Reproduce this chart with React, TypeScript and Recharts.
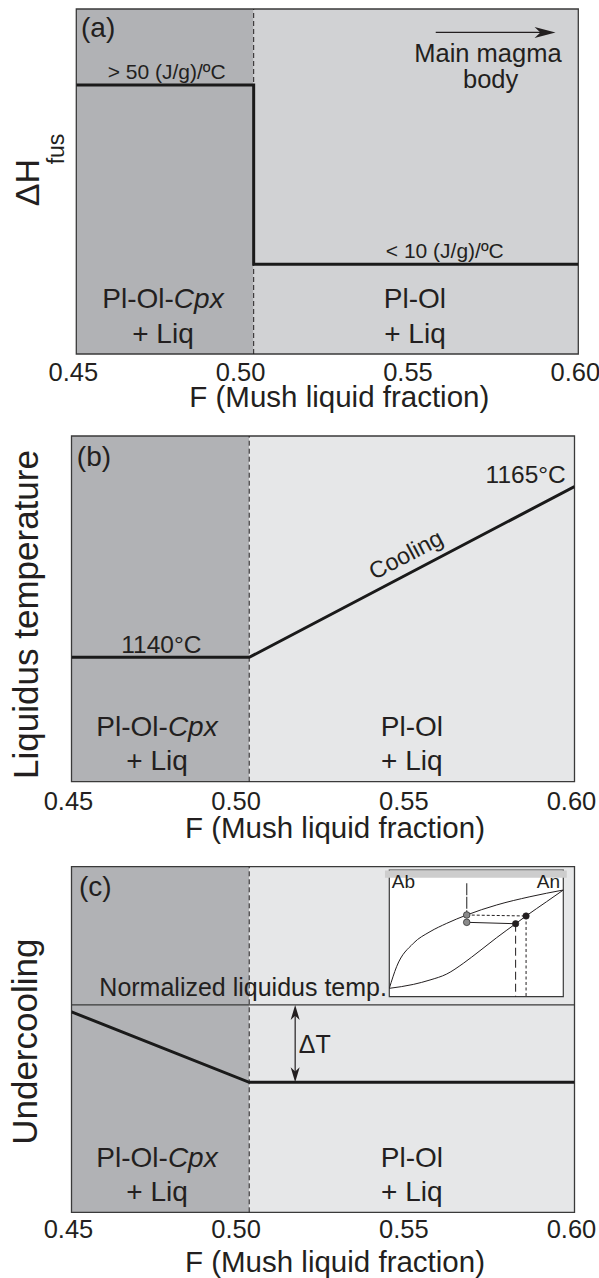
import React from 'react';
import {
  ComposedChart, Line, XAxis, YAxis, ReferenceArea, ReferenceLine, ReferenceDot,
} from 'recharts';

// ---------- data ----------
const xTicks = [0.45, 0.5, 0.55, 0.6];
const xTickLabels = ['0.45', '0.50', '0.55', '0.60'];
const fDomain = [0.45, 0.6];
const fBoundary = 0.503; // Cpx-in boundary as drawn

// (a) enthalpy of fusion (relative units)
const dhF = [0.45, 0.503, 0.503, 0.6];
const dhV = [78, 78, 26, 26];
const dhDomain = [0, 100];
const magmaArrowF = [0.5574, 0.5932];
const magmaArrowV = 93.2;

// (b) liquidus temperature (°C)
const tlF = [0.45, 0.503, 0.6];
const tlV = [1140, 1140, 1165];
const tlDomain = [1121.8, 1172.4];

// (c) undercooling (normalized)
const ucDomain = [0, 100];
const normLiqV = 60;
const ucF = [0.45, 0.503, 0.6];
const ucV = [58, 37.6, 37.6];
const dTF = 0.5167;

// inset: Ab–An binary loop
const liqX = [0, 4.2, 13.8, 23.4, 33, 44.5, 61.7, 80.8, 100];
const liqY = [6.6, 23.7, 42.1, 51.3, 57.9, 64.5, 72.4, 78.9, 84.2];
const solX = [0, 13.8, 23.4, 33, 42.5, 52.1, 61.7, 72.6, 78.6, 90.4, 100];
const solY = [6.6, 9.7, 13.2, 17.9, 26.3, 36.3, 46.6, 57.6, 63.7, 75, 84.2];
const grayDotX = [44.5, 44.5];
const grayDotY = [64.5, 58.7];
const blackDotX = [78.6, 72.6];
const blackDotY = [63.7, 57.6];
const tieTopY = 89.5;

// ---------- styling ----------
const FONT = '"Liberation Sans", Arial, Helvetica, sans-serif';
const INK = '#231f20';
const DARK = '#b1b2b5';
const LIGHT_A = '#d1d2d4';
const LIGHT_BC = '#e6e7e8';
const BORDER = '#3a3a3a';

const pts = (xs: number[], ys: number[], kx = 'f', ky = 'v') =>
  xs.map((x, i) => ({ [kx]: x, [ky]: ys[i] }));

const tickFmt = (v: number) => {
  const i = xTicks.findIndex((t) => Math.abs(t - v) < 1e-9);
  return i >= 0 ? xTickLabels[i] : v.toFixed(2);
};

const tx = (
  key: string, x: number, y: number, children: React.ReactNode, size: number,
  anchor: 'start' | 'middle' | 'end' = 'middle', rotate = 0,
) => (
  <ReferenceDot
    key={key} x={x} y={y} r={0} ifOverflow="visible"
    shape={(p: any) => (
      <text
        x={p.cx} y={p.cy} textAnchor={anchor} fontSize={size} fontFamily={FONT} fill={INK}
        transform={rotate ? `rotate(${rotate} ${p.cx} ${p.cy})` : undefined}
      >
        {children}
      </text>
    )}
  />
);

const arrowShape = (both: boolean, hl: number, hw: number) => (p: any) => {
  const { x1, y1, x2, y2 } = p;
  const dx = x2 - x1, dy = y2 - y1;
  const len = Math.hypot(dx, dy) || 1;
  const ux = dx / len, uy = dy / len;
  const head = (tx0: number, ty0: number, vx: number, vy: number) => {
    const bx = tx0 - vx * hl, by = ty0 - vy * hl;
    const nx = tx0 - vx * hl * 0.72, ny = ty0 - vy * hl * 0.72;
    return `${tx0},${ty0} ${bx - vy * hw},${by + vx * hw} ${nx},${ny} ${bx + vy * hw},${by - vx * hw}`;
  };
  return (
    <g>
      <line x1={both ? x1 + ux * hl * 0.6 : x1} y1={both ? y1 + uy * hl * 0.6 : y1}
        x2={x2 - ux * hl * 0.6} y2={y2 - uy * hl * 0.6} stroke={INK} strokeWidth={1.2} />
      <polygon points={head(x2, y2, ux, uy)} fill={INK} />
      {both && <polygon points={head(x1, y1, -ux, -uy)} fill={INK} />}
    </g>
  );
};

const xTitle = (dy: number) => (props: any) => {
  const vb = props.viewBox || { x: 72, y: 0, width: 503, height: 60 };
  return (
    <text x={vb.x + vb.width / 2 + 12} y={vb.y + dy} textAnchor="middle"
      fontSize={29.5} fontFamily={FONT} fill={INK}>F (Mush liquid fraction)</text>
  );
};

const axisX = (tickMargin: number, height: number, dy: number) => (
  <XAxis
    type="number" dataKey="f" domain={fDomain} allowDataOverflow ticks={xTicks} interval={0}
    tickFormatter={tickFmt} axisLine={false} tickLine={false} tickSize={0} tickMargin={tickMargin}
    height={height} tick={{ fontSize: 25.5, fill: INK, fontFamily: FONT, dx: -3 }}
    label={xTitle(dy)}
  />
);

const regionLabels = (leftF: number, rightF: number, v1: number, v2: number) => [
  tx('r1', leftF, v1, <><tspan>Pl-Ol-</tspan><tspan fontStyle="italic">Cpx</tspan></>, 28),
  tx('r2', leftF, v2, '+ Liq', 28),
  tx('r3', rightF, v1, 'Pl-Ol', 28),
  tx('r4', rightF, v2, '+ Liq', 28),
];

const background = (yd: number[], light: string) => [
  <ReferenceArea key="bg1" x1={fDomain[0]} x2={fBoundary} y1={yd[0]} y2={yd[1]} fill={DARK} fillOpacity={1} stroke="none" />,
  <ReferenceArea key="bg2" x1={fBoundary} x2={fDomain[1]} y1={yd[0]} y2={yd[1]} fill={light} fillOpacity={1} stroke="none" />,
  <ReferenceLine key="bnd" x={fBoundary} stroke={INK} strokeWidth={1} strokeDasharray="5 3" />,
];

const frame = (yd: number[]) => (
  <ReferenceArea key="frame" x1={fDomain[0]} x2={fDomain[1]} y1={yd[0]} y2={yd[1]} fill="none" fillOpacity={0} stroke={BORDER} strokeWidth={1.3} ifOverflow="visible" />
);

// ---------- panels ----------
const PanelA = () => (
  <ComposedChart width={599} height={425} margin={{ top: 9, right: 20.7, bottom: 0, left: 0 }}>
    {axisX(9.3, 71, 53.3)}
    <YAxis type="number" domain={dhDomain} allowDataOverflow tick={false} axisLine={false} tickLine={false} width={76.3}
      label={(props: any) => {
        const vb = props.viewBox || { x: 0, y: 9 };
        return (
          <g fontFamily={FONT} fill={INK}>
            <text x={vb.x + 39.3} y={vb.y + 173.5} fontSize={34} textAnchor="middle" transform={`rotate(-90 ${vb.x + 39.3} ${vb.y + 173.5})`}>ΔH</text>
            <text x={vb.x + 64} y={vb.y + 140} fontSize={23} textAnchor="middle" transform={`rotate(-90 ${vb.x + 64} ${vb.y + 140})`}>fus</text>
          </g>
        );
      }} />
    {background(dhDomain, LIGHT_A)}
    <Line data={pts(dhF, dhV)} dataKey="v" type="linear" stroke="#1a1a1a" strokeWidth={3} dot={false} isAnimationActive={false} />
    {frame(dhDomain)}
    <ReferenceLine segment={[{ x: magmaArrowF[0], y: magmaArrowV }, { x: magmaArrowF[1], y: magmaArrowV }]}
      ifOverflow="visible" shape={arrowShape(false, 21, 5.5)} />
    {tx('a', 0.4514, 91.8, '(a)', 28, 'start')}
    {tx('hi', 0.477, 79.6, '> 50 (J/g)/ºC', 21)}
    {tx('lo', 0.5601, 27.9, '< 10 (J/g)/ºC', 21)}
    {tx('mm1', 0.573, 84.5, 'Main magma', 25.5)}
    {tx('mm2', 0.5738, 77.1, 'body', 25.5)}
    {regionLabels(0.4759, 0.5512, 13.19, 3.33)}
  </ComposedChart>
);

const PanelB = () => (
  <ComposedChart width={599} height={430} margin={{ top: 11, right: 24.5, bottom: 0, left: 0 }}>
    {axisX(10, 73.3, 56.5)}
    <YAxis type="number" domain={tlDomain} allowDataOverflow tick={false} axisLine={false} tickLine={false} width={71.5}
      label={(props: any) => {
        const vb = props.viewBox || { x: 0, y: 11 };
        const x = vb.x + 37.5, y = vb.y + 178.5;
        return <text x={x} y={y} fontSize={35} fontFamily={FONT} fill={INK} textAnchor="middle" transform={`rotate(-90 ${x} ${y})`}>Liquidus temperature</text>;
      }} />
    {background(tlDomain, LIGHT_BC)}
    <Line data={pts(tlF, tlV)} dataKey="v" type="linear" stroke="#1a1a1a" strokeWidth={3} dot={false} isAnimationActive={false} />
    {frame(tlDomain)}
    {tx('b', 0.4516, 1168.0, '(b)', 28, 'start')}
    {tx('t1', 0.4768, 1140.6, '1140°C', 24.5)}
    {tx('t2', 0.5974, 1165.5, '1165°C', 24.5, 'end')}
    {tx('cool', 0.5508, 1154.0, 'Cooling', 23.5, 'middle', -27.7)}
    {regionLabels(0.4755, 0.5515, 1128.46, 1123.48)}
  </ComposedChart>
);

const PanelC = () => (
  <ComposedChart width={599} height={423} margin={{ top: 11.7, right: 24.5, bottom: 0, left: 0 }}>
    {axisX(7.7, 65.7, 59.4)}
    <YAxis type="number" domain={ucDomain} allowDataOverflow tick={false} axisLine={false} tickLine={false} width={71.5}
      label={(props: any) => {
        const vb = props.viewBox || { x: 0, y: 11.7 };
        const x = vb.x + 37.5, y = vb.y + 175;
        return <text x={x} y={y} fontSize={35} fontFamily={FONT} fill={INK} textAnchor="middle" transform={`rotate(-90 ${x} ${y})`}>Undercooling</text>;
      }} />
    {background(ucDomain, LIGHT_BC)}
    <ReferenceLine y={normLiqV} stroke={BORDER} strokeWidth={1.3} />
    <Line data={pts(ucF, ucV)} dataKey="v" type="linear" stroke="#1a1a1a" strokeWidth={3} dot={false} isAnimationActive={false} />
    {frame(ucDomain)}
    <ReferenceLine segment={[{ x: dTF, y: normLiqV }, { x: dTF, y: ucV[2] }]} ifOverflow="visible" shape={arrowShape(true, 15, 4.5)} />
    {tx('c', 0.4522, 91.5, '(c)', 28, 'start')}
    {tx('nl', 0.4583, 62.7, 'Normalized liquidus temp.', 25, 'start')}
    {tx('dt', 0.5178, 46.0, 'ΔT', 25, 'start')}
    {regionLabels(0.4755, 0.5515, 13.17, 3.33)}
  </ComposedChart>
);

const Inset = () => (
  <ComposedChart width={200} height={145} margin={{ top: 10, right: 16.7, bottom: 8.3, left: 9.3 }}>
    <XAxis type="number" dataKey="x" domain={[0, 100]} allowDataOverflow hide />
    <YAxis type="number" dataKey="y" domain={[0, 100]} allowDataOverflow hide />
    <ReferenceArea x1={0} x2={100} y1={0} y2={100} fill="#ffffff" fillOpacity={1} stroke={BORDER} strokeWidth={1.2} />
    <ReferenceArea x1={-2.5} x2={102} y1={93.9} y2={99.6} ifOverflow="visible" fill="#cdcdcd" fillOpacity={1} stroke="none" />
    <Line data={pts(liqX, liqY, 'x', 'y')} dataKey="y" type="monotone" stroke={INK} strokeWidth={1} dot={false} isAnimationActive={false} />
    <Line data={pts(solX, solY, 'x', 'y')} dataKey="y" type="monotone" stroke={INK} strokeWidth={1} dot={false} isAnimationActive={false} />
    <ReferenceLine segment={[{ x: grayDotX[0], y: tieTopY }, { x: grayDotX[0], y: grayDotY[0] }]} stroke="#444" strokeWidth={1.2} strokeDasharray="12 1.5" />
    <ReferenceLine segment={[{ x: grayDotX[0], y: grayDotY[0] }, { x: blackDotX[0], y: blackDotY[0] }]} stroke={INK} strokeWidth={1} strokeDasharray="3 2" />
    <ReferenceLine segment={[{ x: grayDotX[1], y: grayDotY[1] }, { x: blackDotX[1], y: blackDotY[1] }]} stroke={INK} strokeWidth={1} />
    <ReferenceLine segment={[{ x: blackDotX[1], y: blackDotY[1] }, { x: blackDotX[1], y: 0 }]} stroke={INK} strokeWidth={1} strokeDasharray="8 4" />
    <ReferenceLine segment={[{ x: blackDotX[0], y: blackDotY[0] }, { x: blackDotX[0], y: 0 }]} stroke={INK} strokeWidth={1} strokeDasharray="3 2.5" />
    {grayDotX.map((x, i) => (
      <ReferenceDot key={'g' + i} x={x} y={grayDotY[i]} r={3.3} fill="#8a8a8a" stroke="#333" strokeWidth={0.8} ifOverflow="visible" />
    ))}
    {blackDotX.map((x, i) => (
      <ReferenceDot key={'k' + i} x={x} y={blackDotY[i]} r={3.2} fill={INK} stroke={INK} strokeWidth={0.6} ifOverflow="visible" />
    ))}
    {tx('ab', 1.4, 85.6, 'Ab', 19, 'start')}
    {tx('an', 98.1, 85.6, 'An', 19, 'end')}
  </ComposedChart>
);

export default function App() {
  return (
    <div style={{ position: 'absolute', left: 0, top: 0, width: 599, height: 1278, background: '#fff', overflow: 'hidden' }}>
      <div style={{ position: 'absolute', left: 0, top: 0 }}><PanelA /></div>
      <div style={{ position: 'absolute', left: 0, top: 425 }}><PanelB /></div>
      <div style={{ position: 'absolute', left: 0, top: 855 }}><PanelC /></div>
      <div style={{ position: 'absolute', left: 380, top: 860 }}><Inset /></div>
    </div>
  );
}
